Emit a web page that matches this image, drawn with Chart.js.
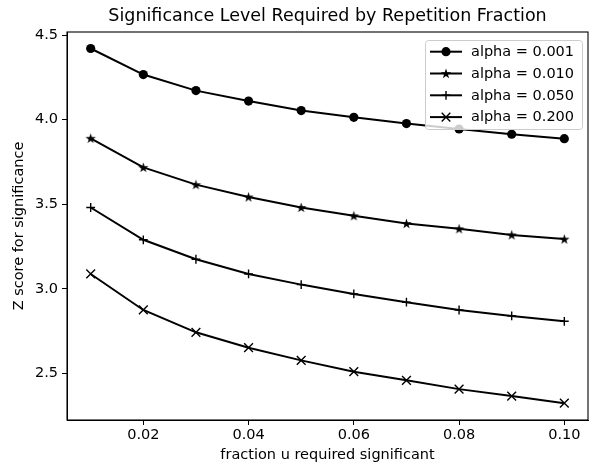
<!DOCTYPE html>
<html><head><meta charset="utf-8">
<script src="https://cdn.jsdelivr.net/npm/chart.js@4"></script>
<style>html,body{margin:0;padding:0;background:#fff}</style>
</head><body>
<canvas id="c" width="592" height="466" style="display:block;width:592px;height:466px"></canvas>
<script>
// ---- data ----
const fractions = [0.01, 0.02, 0.03, 0.04, 0.05, 0.06, 0.07, 0.08, 0.09, 0.10];
const zAlpha001 = [4.421, 4.267, 4.172, 4.110, 4.054, 4.014, 3.977, 3.945, 3.914, 3.888];
const zAlpha010 = [3.890, 3.718, 3.616, 3.543, 3.481, 3.432, 3.386, 3.355, 3.319, 3.294];
const zAlpha050 = [3.481, 3.290, 3.175, 3.088, 3.025, 2.970, 2.921, 2.875, 2.840, 2.808];
const zAlpha200 = [3.088, 2.875, 2.743, 2.652, 2.577, 2.510, 2.459, 2.407, 2.366, 2.324];
const seriesLabels = ['alpha = 0.001', 'alpha = 0.010', 'alpha = 0.050', 'alpha = 0.200'];
const xTicks = [0.02, 0.04, 0.06, 0.08, 0.10];
const yTicks = [2.5, 3.0, 3.5, 4.0, 4.5];
const chartTitle = 'Significance Level Required by Repetition Fraction';

const FONT = 'DejaVu Sans';
const TICK_FS = 14.5;
const TITLE_FS = 17.5;

function drawStar(ctx, cx, cy, r) {
  ctx.beginPath();
  for (let i = 0; i < 10; i++) {
    const a = -Math.PI / 2 + i * Math.PI / 5;
    const rr = (i % 2) ? r * 0.382 : r;
    const x = cx + rr * Math.cos(a), y = cy + rr * Math.sin(a);
    if (i === 0) ctx.moveTo(x, y); else ctx.lineTo(x, y);
  }
  ctx.closePath();
  ctx.fillStyle = '#000';
  ctx.fill();
}
function starCanvas(r) {
  const s = Math.ceil(r * 2 + 2);
  const c = document.createElement('canvas');
  c.width = s; c.height = s;
  drawStar(c.getContext('2d'), s / 2, s / 2 + 0.5, r);
  return c;
}
const starImg = starCanvas(5.4);

function pts(ys) { return fractions.map((x, i) => ({ x: x, y: ys[i] })); }

const markerDefs = [
  { pointStyle: 'circle', pointRadius: 4.6, pointBorderWidth: 0 },
  { pointStyle: starImg, pointRadius: 5, pointBorderWidth: 0 },
  { pointStyle: 'cross', pointRadius: 4.4, pointBorderWidth: 1.4 },
  { pointStyle: 'crossRot', pointRadius: 6.2, pointBorderWidth: 1.4 }
];
const seriesData = [zAlpha001, zAlpha010, zAlpha050, zAlpha200];

const datasets = seriesData.map((ys, i) => Object.assign({
  label: seriesLabels[i],
  data: pts(ys),
  borderColor: '#000',
  backgroundColor: '#000',
  pointBackgroundColor: '#000',
  pointBorderColor: '#000',
  borderWidth: 2,
  tension: 0,
  fill: false
}, markerDefs[i]));

const frame = {
  id: 'frame',
  afterDatasetsDraw(chart) {
    const a = chart.chartArea, ctx = chart.ctx;
    ctx.save();
    ctx.strokeStyle = '#000';
    ctx.lineWidth = 1.1;
    ctx.strokeRect(a.left, a.top, a.right - a.left, a.bottom - a.top);
    ctx.restore();
  }
};

const plotTitle = {
  id: 'plotTitle',
  afterDraw(chart) {
    const a = chart.chartArea, ctx = chart.ctx;
    ctx.save();
    ctx.font = TITLE_FS + 'px "' + FONT + '"';
    ctx.fillStyle = '#000';
    ctx.textAlign = 'center';
    ctx.textBaseline = 'middle';
    ctx.fillText(chartTitle, (a.left + a.right) / 2, 16.5);
    ctx.restore();
  }
};

const legendBox = {
  id: 'legendBox',
  afterDraw(chart) {
    const a = chart.chartArea, ctx = chart.ctx;
    const w = 157, h = 89;
    const x0 = a.right - 6 - w, y0 = a.top + 8;
    ctx.save();
    ctx.beginPath();
    if (ctx.roundRect) ctx.roundRect(x0 + 0.5, y0 + 0.5, w, h, 3); else ctx.rect(x0 + 0.5, y0 + 0.5, w, h);
    ctx.fillStyle = 'rgba(255,255,255,0.8)';
    ctx.fill();
    ctx.strokeStyle = '#cccccc';
    ctx.lineWidth = 1;
    ctx.stroke();
    ctx.font = TICK_FS + 'px "' + FONT + '"';
    ctx.textBaseline = 'middle';
    ctx.textAlign = 'left';
    chart.data.datasets.forEach((ds, i) => {
      const y = y0 + 11.7 + i * 21.8;
      const lx0 = x0 + 5, lx1 = x0 + 37, mx = x0 + 21;
      ctx.strokeStyle = '#000';
      ctx.lineWidth = 2;
      ctx.beginPath(); ctx.moveTo(lx0, y); ctx.lineTo(lx1, y); ctx.stroke();
      ctx.fillStyle = '#000';
      if (i === 0) { ctx.beginPath(); ctx.arc(mx, y, 4.6, 0, Math.PI * 2); ctx.fill(); }
      else if (i === 1) { drawStar(ctx, mx, y + 0.5, 5.4); }
      else if (i === 2) {
        ctx.lineWidth = 1.4; ctx.beginPath();
        ctx.moveTo(mx - 4.4, y); ctx.lineTo(mx + 4.4, y);
        ctx.moveTo(mx, y - 4.4); ctx.lineTo(mx, y + 4.4); ctx.stroke();
      } else {
        const d = 4.3; ctx.lineWidth = 1.4; ctx.beginPath();
        ctx.moveTo(mx - d, y - d); ctx.lineTo(mx + d, y + d);
        ctx.moveTo(mx - d, y + d); ctx.lineTo(mx + d, y - d); ctx.stroke();
      }
      ctx.fillStyle = '#000';
      ctx.fillText(ds.label, x0 + 46, y + 0.5);
    });
    ctx.restore();
  }
};

Chart.defaults.font.family = FONT;
Chart.defaults.color = '#000';

new Chart(document.getElementById('c'), {
  type: 'line',
  data: { datasets: datasets },
  plugins: [frame, legendBox, plotTitle],
  options: {
    responsive: false,
    animation: false,
    devicePixelRatio: 1,
    layout: { autoPadding: false, padding: { left: 0, right: 4, top: 32, bottom: 0 } },
    plugins: {
      legend: { display: false },
      tooltip: { enabled: false },
      title: { display: false }
    },
    scales: {
      x: {
        type: 'linear',
        min: 0.0055, max: 0.1045,
        afterBuildTicks(s) { s.ticks = xTicks.map(v => ({ value: v })); },
        afterFit(s) { s.height = 46; s.paddingRight = 0; s.paddingLeft = 0; },
        ticks: { font: { size: TICK_FS }, color: '#000', padding: 2, maxRotation: 0,
                 callback: v => v.toFixed(2) },
        grid: { drawOnChartArea: false, drawTicks: true, tickLength: 5, color: '#000', lineWidth: 1 },
        border: { display: true, color: '#000', width: 1 },
        title: { display: true, text: 'fraction u required significant', font: { size: TICK_FS, lineHeight: 1.2 },
                 color: '#000', padding: { top: 0, bottom: 2 } }
      },
      y: {
        type: 'linear',
        min: 2.2245, max: 4.5185,
        afterBuildTicks(s) { s.ticks = yTicks.map(v => ({ value: v })); },
        afterFit(s) { s.width = 67; s.paddingTop = 0; s.paddingBottom = 0; },
        ticks: { font: { size: TICK_FS }, color: '#000', padding: 4,
                 callback: v => v.toFixed(1) },
        grid: { drawOnChartArea: false, drawTicks: true, tickLength: 5, color: '#000', lineWidth: 1 },
        border: { display: true, color: '#000', width: 1 },
        title: { display: true, text: 'Z score for significance', font: { size: TICK_FS, lineHeight: 1.2 },
                 color: '#000', padding: { top: 11, bottom: 4 } }
      }
    }
  }
});
</script>
</body></html>
